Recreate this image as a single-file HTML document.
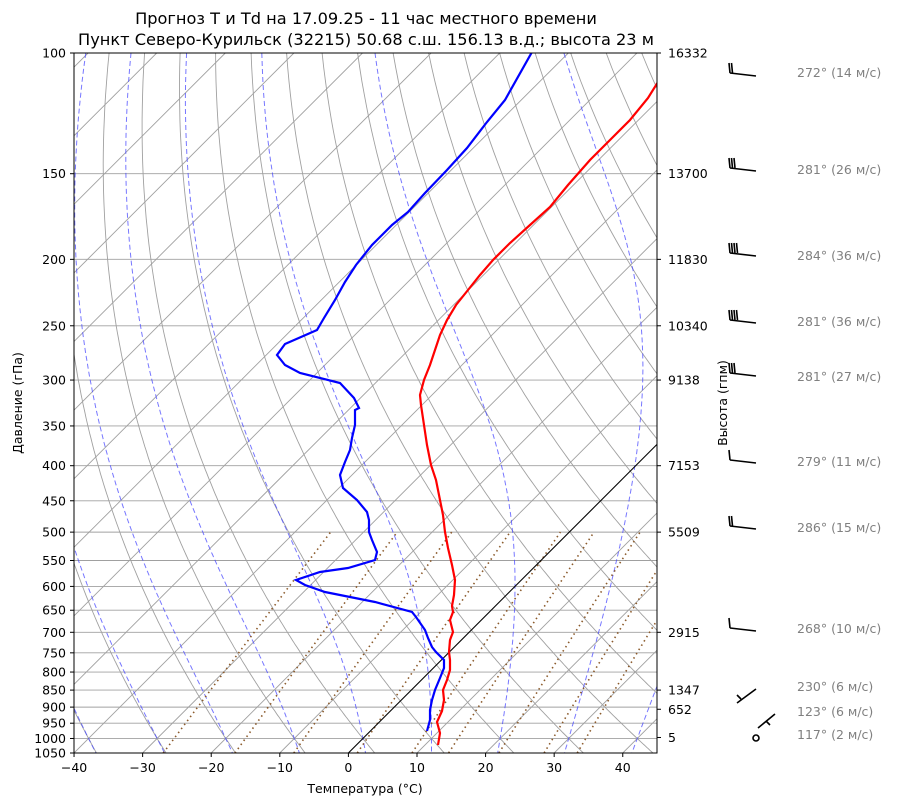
<!DOCTYPE html>
<html><head><meta charset="utf-8"><style>
body{margin:0;background:#fff;}
svg{display:block;font-family:"DejaVu Sans","Liberation Sans",sans-serif;}
</style></head><body>
<svg id="s" width="900" height="806" xmlns="http://www.w3.org/2000/svg">
<defs><clipPath id="c"><rect x="74" y="53" width="583" height="700"/></clipPath></defs>
<g id="g" clip-path="url(#c)"></g>
<rect x="74" y="53" width="583" height="700" fill="none" stroke="#000" stroke-width="1"/>
<g id="ax" font-size="12.5"></g>
<text x="366" y="24" font-size="16.2" text-anchor="middle">Прогноз T и Td на 17.09.25 - 11 час местного времени</text>
<text x="366" y="45" font-size="16.2" text-anchor="middle">Пункт Северо-Курильск (32215) 50.68 с.ш. 156.13 в.д.; высота 23 м</text>
<text x="365" y="793" font-size="12.5" text-anchor="middle">Температура (°C)</text>
<text transform="translate(22,403) rotate(-90)" font-size="12.5" text-anchor="middle">Давление (гПа)</text>
<text transform="translate(727,403) rotate(-90)" font-size="12.5" text-anchor="middle">Высота (гпм)</text>
<g id="w" fill="none" stroke="#000" stroke-width="1.6"></g>
<g font-size="12.5" fill="#808080">
<text x="797" y="77">272° (14 м/с)</text>
<text x="797" y="174">281° (26 м/с)</text>
<text x="797" y="260">284° (36 м/с)</text>
<text x="797" y="326">281° (36 м/с)</text>
<text x="797" y="381">281° (27 м/с)</text>
<text x="797" y="466">279° (11 м/с)</text>
<text x="797" y="532">286° (15 м/с)</text>
<text x="797" y="633">268° (10 м/с)</text>
<text x="797" y="691">230° (6 м/с)</text>
<text x="797" y="716">123° (6 м/с)</text>
<text x="797" y="739">117° (2 м/с)</text>
</g>
</svg>
<script>
var NS="http://www.w3.org/2000/svg";
function Y(p){return 53+297.7*Math.log(p/100);}
function X(T,p){return 348.4+6.859*T+(753-Y(p));}
var g=document.getElementById('g'),ax=document.getElementById('ax');
function el(par,t,a,txt){var e=document.createElementNS(NS,t);for(var k in a)e.setAttribute(k,a[k]);if(txt!=null)e.textContent=txt;par.appendChild(e);return e;}
function path(pts,a){var d=pts.map(function(q,i){return (i?'L':'M')+q[0].toFixed(1)+' '+q[1].toFixed(1);}).join('');a.d=d;a.fill='none';el(g,'path',a);}
var ps=[];for(var p=1050;p>=100;p-=5)ps.push(p);
[100,150,200,250,300,350,400,450,500,550,600,650,700,750,800,850,900,950,1000,1050].forEach(function(p){
 el(g,'line',{x1:74,x2:657,y1:Y(p),y2:Y(p),stroke:'#a0a0a0','stroke-width':0.9});
 el(ax,'text',{x:66,y:Y(p)+4.5,'text-anchor':'end'},p);
 el(ax,'line',{x1:70,x2:74,y1:Y(p),y2:Y(p),stroke:'#000'});
});
for(var T=-140;T<=50;T+=10){if(T==0)continue;path([[X(T,1050),Y(1050)],[X(T,100),Y(100)]],{stroke:'#a0a0a0','stroke-width':0.9});}
for(var t0=-40;t0<=200;t0+=10){var pts=ps.map(function(p){return [X((t0+273.15)*Math.pow(p/1000,0.286)-273.15,p),Y(p)];});path(pts,{stroke:'#a0a0a0','stroke-width':0.9});}
function es(T){return 6.112*Math.exp(17.67*T/(T+243.5));}
function gam(T,p){var Tk=T+273.15,e=es(T),rs=0.622*e/(p-e),Lv=2.501e6,Rd=287,Cp=1005;
 var num=Rd*Tk+Lv*rs, den=Cp+Lv*Lv*rs*0.622/(Rd*Tk*Tk);return num/den/p;}
for(var t0=-40;t0<=40;t0+=10){var pts=[];
 [[-5,100],[5,1050]].forEach(function(d,i){var T=t0,p=1000,arr=[];while(i==0?p>100:p<1050){var dp=i==0?-5:5;T+=gam(T,p)*dp;p+=dp;arr.push([X(T,p),Y(p)]);}
 if(i==0)pts=pts.concat(arr.reverse());else pts=pts.concat([[X(t0,1000),Y(1000)]],arr);});
 pts.sort(function(a,b){return a[1]-b[1];});
 path(pts,{stroke:'#4a4aff','stroke-width':1,'stroke-dasharray':'5,3',opacity:0.75});}
[0.0004,0.001,0.002,0.004,0.007,0.01,0.016,0.024,0.032].forEach(function(w){var pts=[];
 for(var p=1050;p>=500;p-=10){var e=w*p/(0.622+w),l=Math.log(e/6.112),T=243.5*l/(17.67-l);pts.push([X(T,p),Y(p)]);}
 path(pts,{stroke:'#8b5a2b','stroke-width':1.6,'stroke-dasharray':'1.5,3.5'});});
path([[X(0,1050),Y(1050)],[X(0,100),Y(100)]],{stroke:'#000','stroke-width':1.1});
path([[438,745],[440,733],[437,722],[442,711],[444,700],[443,690],[447,680],[450,670],[450,660],[449,652],[450,640],[453,632],[450,620],[453,612],[452,606],[454,595],[455,580],[452,565],[448,548],[445,532],[443,515],[440,500],[436,480],[431,465],[427,445],[424,425],[421,405],[420,395],[424,380],[430,365],[435,350],[440,335],[447,320],[456,305],[468,290],[480,275],[493,260],[510,243],[530,225],[550,207],[568,185],[590,160],[610,140],[630,120],[648,98],[658,82]],{stroke:'#f00','stroke-width':2.2});
path([[427,731],[430,720],[430,710],[432,700],[435,690],[440,678],[444,668],[444,660],[436,652],[432,647],[428,638],[425,630],[416,617],[412,612],[375,602],[325,592],[305,585],[296,580],[320,572],[348,568],[375,560],[377,552],[372,540],[369,532],[369,520],[367,512],[357,500],[343,488],[340,475],[345,462],[350,450],[352,438],[355,425],[355,410],[359,408],[354,398],[340,383],[300,373],[285,365],[277,355],[285,344],[317,330],[324,318],[335,300],[345,282],[356,265],[372,245],[392,225],[408,212],[425,193],[447,170],[467,148],[487,122],[505,100],[532,52]],{stroke:'#00f','stroke-width':2.2});
for(var T=-40;T<=40;T+=10){var x=348.4+6.859*T;el(ax,'line',{x1:x,x2:x,y1:753,y2:757,stroke:'#000'});el(ax,'text',{x:x,y:772,'text-anchor':'middle'},T==0?'0':'\u2212'.repeat(T<0?1:0)+Math.abs(T));}
[[100,'16332'],[150,'13700'],[200,'11830'],[250,'10340'],[300,'9138'],[400,'7153'],[500,'5509'],[700,'2915'],[850,'1347'],[925,'652'],[1000,'5']].forEach(function(a){
 var y=a[0]==925?Y(925)-6:Y(a[0]);if(a[0]==1000)y=Y(1000)-1;
 el(ax,'line',{x1:657,x2:661,y1:y,y2:y,stroke:'#000'});el(ax,'text',{x:668,y:y+4.5},a[1]);});
var w=document.getElementById('w');
function barb(y,n){var d='M730 '+(y-2)+'L756 '+(y+1);for(var i=0;i<n;i++){var x=730+i*2.5;d+='M'+x+' '+(y-2)+'L'+(x-1)+' '+(y-12);}el(w,'path',{d:d});}
barb(75,2);barb(170,3);barb(255,4);barb(322,4);barb(375,3);barb(462,1);barb(528,2);barb(630,1);
el(w,'path',{d:'M737 703L756 689M741 699L737 695'});
el(w,'path',{d:'M758 728L775 714M766 721L770 725'});
el(w,'circle',{cx:756,cy:738,r:3});
</script>
</body></html>
